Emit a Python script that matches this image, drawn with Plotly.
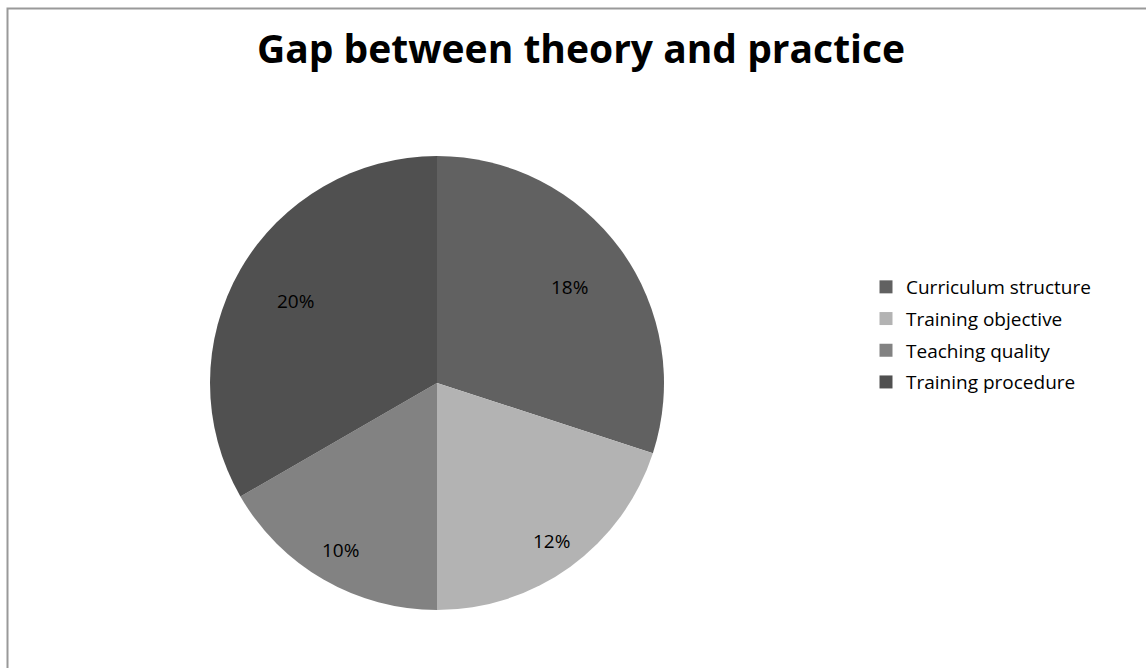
import math
import plotly.graph_objects as go

categories = ["Curriculum structure", "Training objective", "Teaching quality", "Training procedure"]
values = [18, 12, 10, 20]
labels_text = ["18%", "12%", "10%", "20%"]
colors = ["#616161", "#b3b3b3", "#828282", "#505050"]

W, H = 1146, 668
cx, cy, r = 437, 383, 227
label_radius = [0.72, 0.86, 0.85, 0.72]  # label distance from centre, as fraction of radius
FONT = "Open Sans, Lato, sans-serif"

fig = go.Figure()
fig.add_trace(go.Pie(
    labels=categories,
    values=values,
    textinfo="none",
    sort=False,
    direction="clockwise",
    rotation=0,
    marker=dict(colors=colors, line=dict(width=0)),
    domain=dict(x=[(cx - r) / W, (cx + r) / W], y=[1 - (cy + r) / H, 1 - (cy - r) / H]),
    hoverinfo="label+value",
    showlegend=False,
))

# legend entries (one per slice, same colours)
for i, (cat, col) in enumerate(zip(categories, colors)):
    fig.add_trace(go.Scatter(
        x=[None], y=[None], mode="markers", name=cat,
        marker=dict(symbol="square", size=13, color=col),
        legendgroup=f"g{i}", showlegend=True,
    ))

# percentage labels placed at the middle angle of each slice
annotations = []
total = sum(values)
cum = 0
for v, t, f in zip(values, labels_text, label_radius):
    mid = (cum + v / 2) / total * 2 * math.pi
    cum += v
    px = cx + f * r * math.sin(mid)
    py = cy - f * r * math.cos(mid)
    annotations.append(dict(
        x=px / W, y=1 - py / H, xref="paper", yref="paper",
        text=t, showarrow=False, xanchor="center", yanchor="middle",
        font=dict(family=FONT, size=19, color="#000000"),
    ))

fig.update_layout(
    width=W, height=H,
    margin=dict(l=0, r=0, t=0, b=0),
    paper_bgcolor="white",
    plot_bgcolor="white",
    xaxis=dict(visible=False), yaxis=dict(visible=False),
    title=dict(
        text="<b>Gap between theory and practice</b>",
        x=581 / W, xanchor="center",
        y=1 - 49 / H, yanchor="middle",
        font=dict(family=FONT, size=39, color="#000000"),
    ),
    legend=dict(
        x=866 / W, xanchor="left",
        y=1 - 268 / H, yanchor="top",
        font=dict(family=FONT, size=19, color="#000000"),
        tracegroupgap=4,
        itemwidth=30,
        bgcolor="rgba(0,0,0,0)",
    ),
    annotations=annotations,
    shapes=[dict(
        type="rect", xref="paper", yref="paper",
        x0=7.5 / W, y0=-0.02, x1=1.02, y1=1 - 8.5 / H,
        line=dict(color="#999999", width=2),
        fillcolor="rgba(0,0,0,0)",
    )],
)

fig.write_html("out.html")
